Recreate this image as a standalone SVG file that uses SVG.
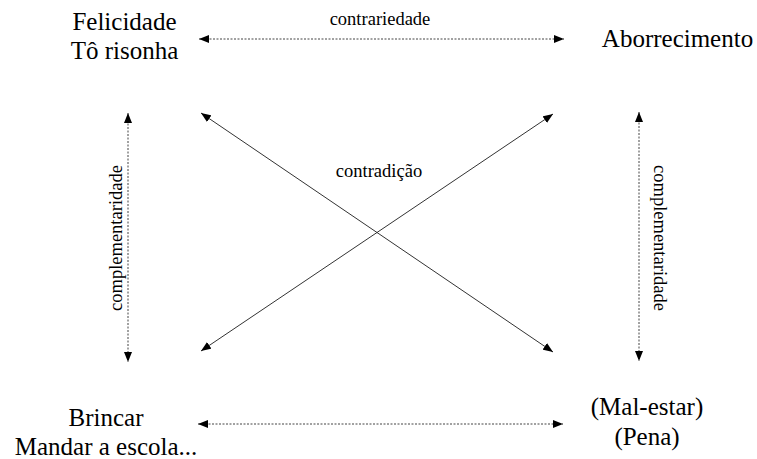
<svg xmlns="http://www.w3.org/2000/svg" width="757" height="459" viewBox="0 0 757 459">
<style>
.dash{stroke:#444;stroke-width:1;stroke-dasharray:2,1.5;fill:none}
.solid{stroke:#333;stroke-width:1;fill:none}
</style>
<defs>
<marker id="ah" viewBox="0 0 10 8" refX="10" refY="4" markerWidth="10" markerHeight="8" markerUnits="userSpaceOnUse" orient="auto-start-reverse">
<path d="M0,0 L10,4 L0,8 z" fill="#000"/>
</marker>
</defs>
<rect width="757" height="459" fill="#fff"/>
<g id="connectors">
<line class="dash" x1="199" y1="39" x2="564" y2="39" marker-start="url(#ah)" marker-end="url(#ah)"/>
<line class="dash" x1="198" y1="424" x2="563" y2="424" marker-start="url(#ah)" marker-end="url(#ah)"/>
<line class="dash" x1="128" y1="113" x2="128" y2="362" marker-start="url(#ah)" marker-end="url(#ah)"/>
<line class="dash" x1="639" y1="112" x2="639" y2="361" marker-start="url(#ah)" marker-end="url(#ah)"/>
<line class="solid" x1="201" y1="113" x2="553" y2="352" marker-start="url(#ah)" marker-end="url(#ah)"/>
<line class="solid" x1="201" y1="351" x2="553" y2="114" marker-start="url(#ah)" marker-end="url(#ah)"/>
<g font-family="'Liberation Serif', serif" font-size="18.5" text-anchor="middle" fill="#000">
<text x="380" y="25">contrariedade</text>
<text x="379" y="177">contradição</text>
<text transform="translate(122,238) rotate(-90)">complementaridade</text>
<text transform="translate(654,238) rotate(90)">complementaridade</text>
</g>
</g>
<g id="felicidade" font-size="25" text-anchor="middle" fill="#000">
<text x="124.5" y="30" style="font-family:'Liberation Serif',serif !important">Felicidade</text>
<text x="124.5" y="59" style="font-family:'Liberation Serif',serif !important">Tô risonha</text>
</g>
<g id="aborrecimento" font-size="25" text-anchor="middle" fill="#000">
<text x="677.5" y="47" style="font-family:'Liberation Serif',serif !important">Aborrecimento</text>
</g>
<g id="brincar" font-size="25" text-anchor="middle" fill="#000">
<text x="106" y="426" style="font-family:'Liberation Serif',serif !important">Brincar</text>
<text x="106" y="455" style="font-family:'Liberation Serif',serif !important">Mandar a escola...</text>
</g>
<g id="malestar" font-size="25" text-anchor="middle" fill="#000">
<text x="647" y="415" style="font-family:'Liberation Serif',serif !important">(Mal-estar)</text>
<text x="647" y="445" style="font-family:'Liberation Serif',serif !important">(Pena)</text>
</g>
</svg>
